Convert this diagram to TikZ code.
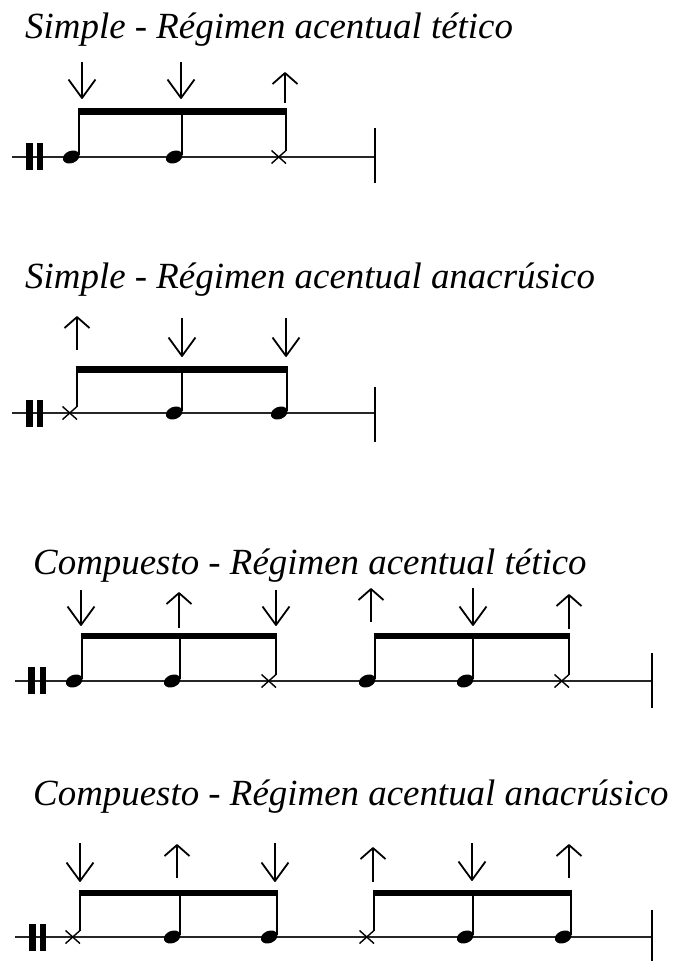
\documentclass[tikz,border=0pt]{standalone}
\usepackage{fontspec}
\setmainfont{Liberation Serif}
\newcommand\notehd[3]{%
  \fill[rotate around={22:(#1-7.8,#2)}] (#1-7.8,#2) ellipse [x radius=8.6pt,y radius=6.1pt];
  \draw[stemline] (#1,#2-2) -- (#1,#3);}
\newcommand\xnote[3]{%
  \draw[xmark] (#1-14.5,#2-6.5) -- (#1,#2+6.5) (#1-14.5,#2+6.5) -- (#1,#2-6.5);
  \draw[stemline] (#1,#2-6.5) -- (#1,#3);}
\newcommand\dnarr[3]{%
  \draw[arr] (#1,#2) -- (#1,#3);
  \draw[arr] (#1-13.5,#3-18.5) -- (#1,#3) -- (#1+13.5,#3-18.5);}
\newcommand\uparr[3]{%
  \draw[arr] (#1,#2) -- (#1,#3);
  \draw[arr] (#1-12.5,#2+11) -- (#1,#2) -- (#1+12.5,#2+11);}
\newcommand\clefbars[4]{% x1, x2, ytop, ybot
  \fill (#1,#3) rectangle (#1+6.5,#4);
  \fill (#2,#3) rectangle (#2+6.5,#4);}
\begin{document}
\begin{tikzpicture}[x=1pt,y=-1pt,
  staffline/.style={line width=1.3pt, black!85},
  stemline/.style={line width=1.3pt},
  beamline/.style={line width=6.8pt},
  arr/.style={line width=1.8pt, line join=round},
  xmark/.style={line width=1.4pt},
  barline/.style={line width=1.3pt},
  title/.style={anchor=base west, inner sep=0pt, font=\fontsize{36.9}{40}\selectfont\itshape}]
\useasboundingbox (0,0) rectangle (676,961);
\fill[white] (0,0) rectangle (676,961);

% ---------- Row 1 ----------
\node[title] (t1) at (25,38) {Simple - Régimen acentual tético};
\draw[staffline] (12,157) -- (375,157);
\draw[barline] (375,128) -- (375,183);
\clefbars{26}{36.5}{143}{170}
\notehd{79}{157}{111.5}
\notehd{182}{157}{111.5}
\xnote{286}{157}{111.5}
\draw[beamline] (78.35,111.5) -- (286.65,111.5);
\dnarr{82}{62}{98}
\dnarr{181}{62}{98}
\uparr{285}{73}{103}

% ---------- Row 2 ----------
\node[title] (t2) at (25,288) {Simple - Régimen acentual anacrúsico};
\draw[staffline] (12,413) -- (375,413);
\draw[barline] (375,387) -- (375,442);
\clefbars{26}{36.5}{400}{427}
\xnote{77}{413}{369.5}
\notehd{182}{413}{369.5}
\notehd{287}{413}{369.5}
\draw[beamline] (76.35,369.5) -- (287.65,369.5);
\uparr{77}{317}{350}
\dnarr{182}{318}{356}
\dnarr{286}{318}{356}

% ---------- Row 3 ----------
\node[title] (t3) at (33,574) {Compuesto - Régimen acentual tético};
\draw[staffline] (15,681) -- (652,681);
\draw[barline] (652,653) -- (652,708);
\clefbars{28}{39.5}{667}{694}
\notehd{82}{681}{636}
\notehd{180}{681}{636}
\xnote{276}{681}{636}
\notehd{375}{681}{636}
\notehd{473}{681}{636}
\xnote{569}{681}{636}
\draw[beamline] (81.35,636) -- (276.65,636);
\draw[beamline] (374.35,636) -- (569.65,636);
\dnarr{81}{590}{625}
\uparr{179}{593}{628}
\dnarr{276}{590}{625}
\uparr{371}{589}{622}
\dnarr{473}{588}{625}
\uparr{569}{595}{629}

% ---------- Row 4 ----------
\node[title] (t4) at (33,805) {Compuesto - Régimen acentual anacrúsico};
\draw[staffline] (15,937) -- (652,937);
\draw[barline] (652,910) -- (652,961);
\clefbars{29}{39.5}{924}{951}
\xnote{80}{937}{893}
\notehd{180}{937}{893}
\notehd{277}{937}{893}
\xnote{374}{937}{893}
\notehd{473}{937}{893}
\notehd{571}{937}{893}
\draw[beamline] (79.35,893) -- (277.65,893);
\draw[beamline] (373.35,893) -- (571.65,893);
\dnarr{80}{843}{881}
\uparr{177}{845}{878}
\dnarr{275}{843}{881}
\uparr{373}{848}{882}
\dnarr{472}{843}{880}
\uparr{569}{845}{878}
\end{tikzpicture}
\end{document}
